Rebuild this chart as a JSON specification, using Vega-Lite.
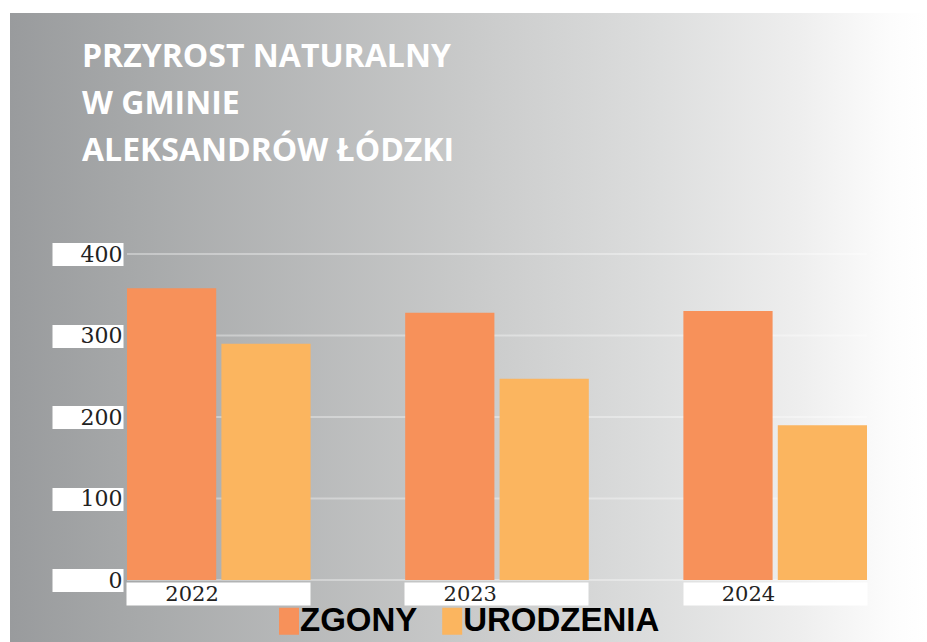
{
  "$schema": "https://vega.github.io/schema/vega-lite/v6.json",
  "autosize": "none",
  "padding": {"left": 10, "top": 13, "right": 0, "bottom": 0},
  "width": 917,
  "height": 629,
  "background": "white",
  "config": {"view": {"stroke": null}},
  "title": {
    "text": ["PRZYROST NATURALNY", "W GMINIE", "ALEKSANDRÓW ŁÓDZKI"],
    "anchor": "start",
    "frame": "group",
    "orient": "top",
    "offset": -155,
    "dx": 72,
    "baseline": "top",
    "lineHeight": 47,
    "font": "Open Sans",
    "fontSize": 32,
    "fontWeight": "bold",
    "color": "white",
    "zindex": 1
  },
  "layer": [
    {
      "data": {"values": [{"tlo": 1}]},
      "mark": {
        "type": "rect",
        "color": {
          "gradient": "linear",
          "x1": 0, "x2": 1, "y1": 0, "y2": 0,
          "stops": [
            {"offset": 0, "color": "#999b9d"},
            {"offset": 0.13, "color": "#a6a8a9"},
            {"offset": 0.5, "color": "#c9caca"},
            {"offset": 0.7, "color": "#dcdddd"},
            {"offset": 0.86, "color": "#eeeeee"},
            {"offset": 0.96, "color": "#fcfcfc"},
            {"offset": 1, "color": "#ffffff"}
          ]
        }
      },
      "encoding": {}
    },
    {
      "data": {"values": [{"v": 0}, {"v": 100}, {"v": 200}, {"v": 300}, {"v": 400}]},
      "mark": {"type": "rule", "color": "white", "strokeOpacity": 0.35, "strokeWidth": 2},
      "encoding": {
        "y": {"field": "v", "type": "quantitative"},
        "x": {"datum": "2022", "bandPosition": 0},
        "x2": {"datum": "2024", "bandPosition": 1}
      }
    },
    {
      "data": {
        "values": [
          {"rok": "2022", "seria": "ZGONY", "wartosc": 358},
          {"rok": "2022", "seria": "URODZENIA", "wartosc": 290},
          {"rok": "2023", "seria": "ZGONY", "wartosc": 328},
          {"rok": "2023", "seria": "URODZENIA", "wartosc": 247},
          {"rok": "2024", "seria": "ZGONY", "wartosc": 330},
          {"rok": "2024", "seria": "URODZENIA", "wartosc": 190}
        ]
      },
      "mark": {"type": "bar"},
      "encoding": {
        "x": {
          "field": "rok",
          "type": "nominal",
          "scale": {"domain": ["2022", "2023", "2024"], "paddingInner": 0.34, "paddingOuter": 0.3181, "align": 0.661},
          "axis": {
            "orient": "bottom",
            "offset": -60,
            "zindex": 1,
            "domain": false,
            "grid": false,
            "tickSize": 23,
            "tickWidth": 184,
            "tickColor": "white",
            "labelPadding": -11,
            "labelBaseline": "middle",
            "labelAngle": 0,
            "labelFont": "DejaVu Serif",
            "labelFontSize": 21,
            "labelColor": "#222222",
            "title": null
          }
        },
        "xOffset": {
          "field": "seria",
          "type": "nominal",
          "scale": {"domain": ["ZGONY", "URODZENIA"], "paddingInner": 0.055, "paddingOuter": 0}
        },
        "y": {
          "field": "wartosc",
          "type": "quantitative",
          "scale": {"domain": [-76.07, 695.71], "nice": false, "zero": false},
          "axis": {
            "orient": "left",
            "offset": -113,
            "zindex": 1,
            "values": [0, 100, 200, 300, 400],
            "grid": false,
            "domain": false,
            "tickSize": 71,
            "tickWidth": 23,
            "tickColor": "white",
            "labelPadding": -70,
            "labelAlign": "right",
            "labelBaseline": "middle",
            "labelFont": "DejaVu Serif",
            "labelFontSize": 22,
            "labelColor": "#222222",
            "title": null
          }
        },
        "color": {
          "field": "seria",
          "type": "nominal",
          "scale": {"domain": ["ZGONY", "URODZENIA"], "range": ["#f7915a", "#fbb55f"]},
          "legend": {
            "orient": "none",
            "legendX": 262.5,
            "legendY": 591.5,
            "direction": "horizontal",
            "title": null,
            "padding": 0,
            "symbolType": "M-0.74,-1H0.74V1H-0.74Z",
            "symbolSize": 729,
            "symbolStrokeWidth": 0,
            "symbolOpacity": 1,
            "labelFont": "Liberation Sans",
            "labelFontSize": 33,
            "labelFontWeight": "bold",
            "labelColor": "#000000",
            "labelLimit": 400,
            "labelOffset": -5.5,
            "columnPadding": 18.2
          }
        }
      }
    }
  ]
}
